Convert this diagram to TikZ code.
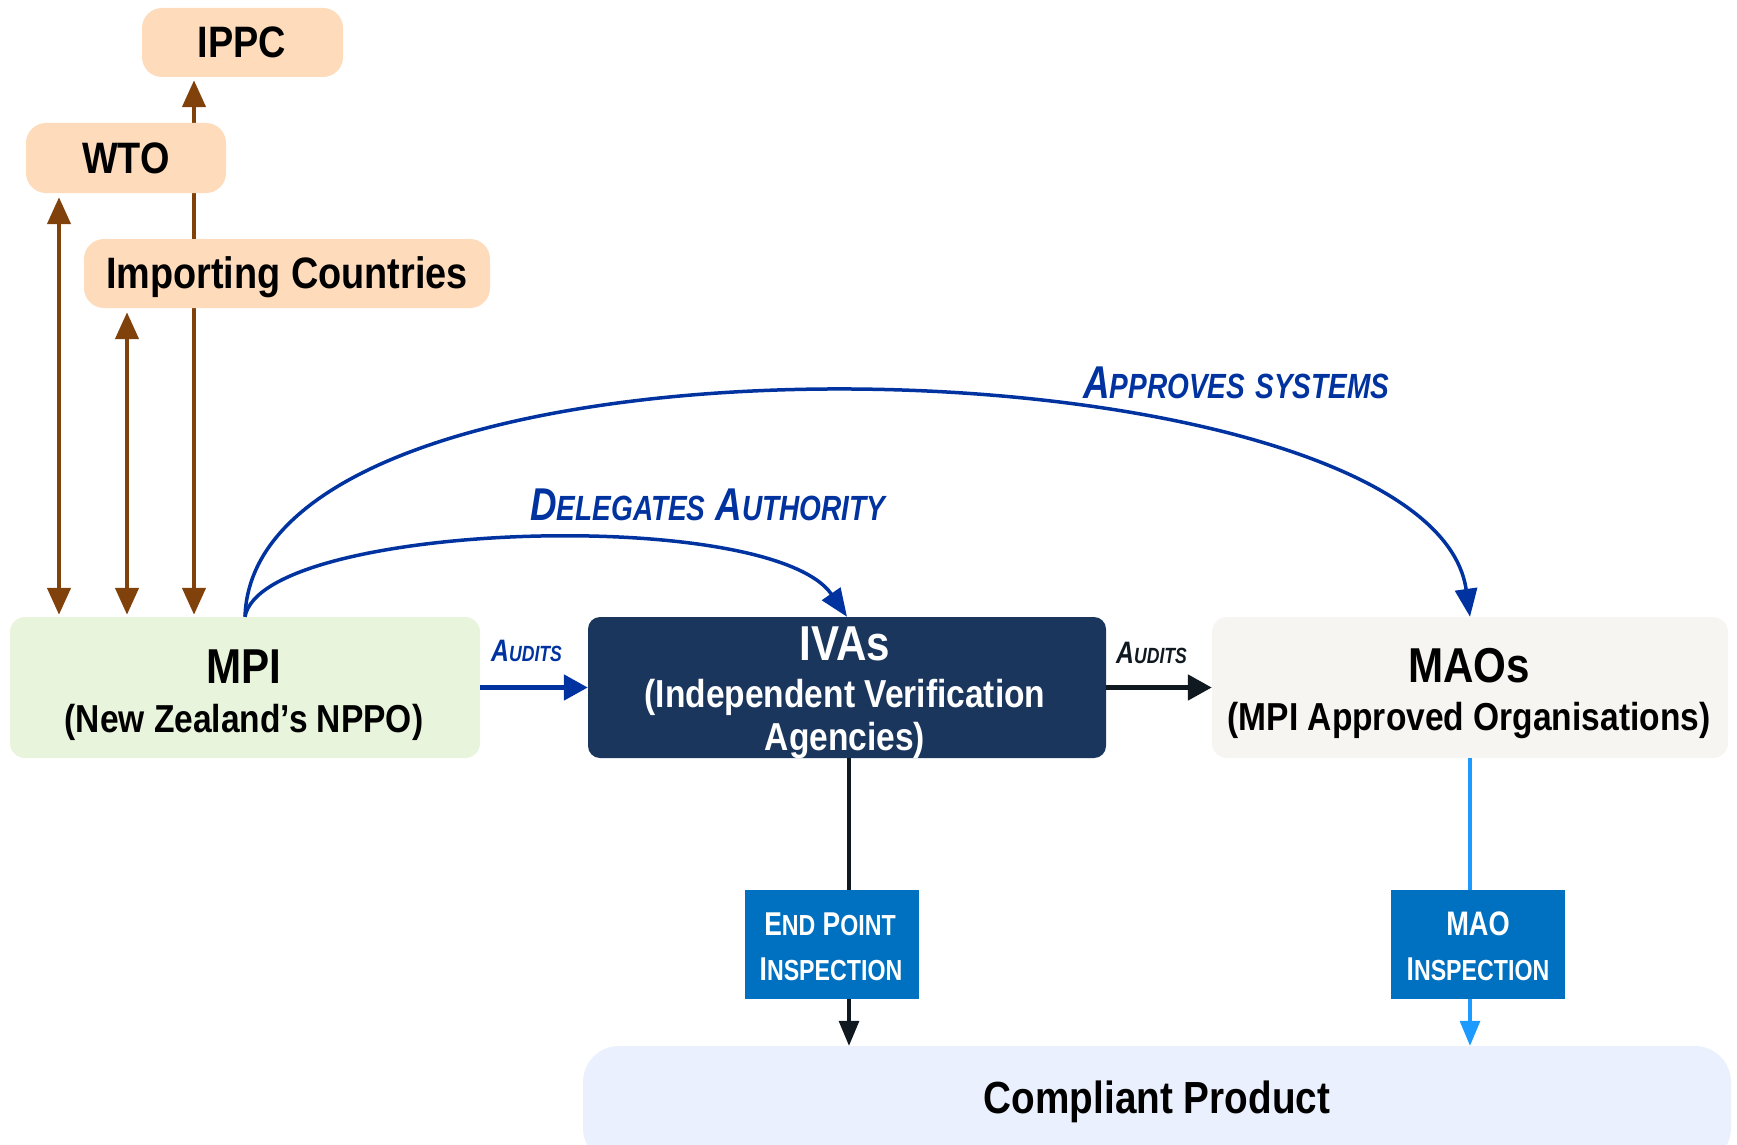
\documentclass[tikz,border=0pt]{standalone}
\usepackage{fontspec}
\setmainfont{Liberation Sans}[FakeStretch=0.86]
\newfontfamily\lblfont{Liberation Sans}[FakeStretch=0.8]
\usetikzlibrary{arrows.meta}

\definecolor{peach}{HTML}{FDDBBB}
\definecolor{linkbrown}{HTML}{80420A}
\definecolor{mpigreen}{HTML}{E8F4DB}
\definecolor{ivanavy}{HTML}{1A365D}
\definecolor{maogrey}{HTML}{F6F5F1}
\definecolor{ctrlblue}{HTML}{0033A0}
\definecolor{inspblue}{HTML}{0070C0}
\definecolor{prodblue}{HTML}{EAF0FD}
\definecolor{skyblue}{HTML}{1C9AFF}
\definecolor{inkblack}{HTML}{101820}

\pgfdeclarelayer{links}
\pgfsetlayers{links,main}

% small-caps imitation: a run of capitals at a reduced size
\newcommand\lsc[2]{{\fontsize{#1}{#1}\selectfont #2}}

\tikzset{
  box/.style={draw=none, inner sep=0pt, rounded corners=#1},
  title/.style={inner sep=0pt, anchor=base, font=\bfseries},
  lbl/.style={inner sep=0pt, anchor=base west, font=\lblfont\bfseries\itshape},
  insp/.style={inner sep=0pt, anchor=base, text=white, font=\lblfont\bfseries},
  tie/.style={draw=linkbrown, line width=4.5pt,
    {Triangle[length=27pt,width=23pt]}-{Triangle[length=27pt,width=23pt]}},
  control/.style={draw=ctrlblue, line width=3.5pt, -{Triangle[length=28pt,width=22pt]}},
  audit/.style={line width=5pt, -{Triangle[length=24pt,width=25pt]}},
  flow/.style={line width=3.2pt},
  flowtip/.style={line width=3.2pt, -{Triangle[length=25pt,width=20pt]}},
}

\begin{document}
\begin{tikzpicture}[x=1pt,y=-1pt]
\useasboundingbox (0,0) rectangle (1737,1145);

% ---- boxes ----
\node[box=20pt, fill=peach, minimum width=201pt, minimum height=69pt] (ippc) at (242.5,42.5) {};
\node[box=20pt, fill=peach, minimum width=200pt, minimum height=70pt] (wto) at (126,158) {};
\node[box=20pt, fill=peach, minimum width=406pt, minimum height=69pt] (imp) at (287,273.5) {};
\node[box=15pt, fill=mpigreen, minimum width=470pt, minimum height=141pt] (mpi) at (245,687.5) {};
\node[box=12pt, fill=ivanavy, minimum width=518pt, minimum height=141pt] (iva) at (847,687.5) {};
\node[box=15pt, fill=maogrey, minimum width=516pt, minimum height=141pt] (mao) at (1470,687.5) {};
\node[box=0pt, fill=inspblue, minimum width=174pt, minimum height=109pt] (ept) at (832,944.5) {};
\node[box=0pt, fill=inspblue, minimum width=174pt, minimum height=109pt] (mai) at (1478,944.5) {};
\node[box=36pt, fill=prodblue, minimum width=1148pt, minimum height=118pt] (cp) at (1157,1105) {};

% ---- box texts ----
\node[title, font=\bfseries\fontsize{44}{44}\selectfont] (tippc) at (242,58) {IPPC};
\node[title, font=\bfseries\fontsize{44}{44}\selectfont] (twto) at (126,173) {WTO};
\node[title, font=\bfseries\fontsize{44}{44}\selectfont] (timp) at (287,288) {Importing Countries};
\node[title, font=\bfseries\fontsize{49}{49}\selectfont] (tmpi) at (244,683) {MPI};
\node[title, font=\bfseries\fontsize{39}{39}\selectfont] (tmpi2) at (244,732) {(New Zealand’s NPPO)};
\node[title, text=white, font=\bfseries\fontsize{49}{49}\selectfont] (tiva) at (845,660) {IVAs};
\node[title, text=white, font=\bfseries\fontsize{39}{39}\selectfont] (tiva2) at (845,707) {(Independent Verification};
\node[title, text=white, font=\bfseries\fontsize{39}{39}\selectfont] (tiva3) at (845,750) {Agencies)};
\node[title, font=\bfseries\fontsize{49}{49}\selectfont] (tmao) at (1469,682) {MAOs};
\node[title, font=\bfseries\fontsize{39}{39}\selectfont] (tmao2) at (1469,730) {(MPI Approved Organisations)};
\node[title, font=\bfseries\fontsize{45}{45}\selectfont] (tcp) at (1157,1113) {Compliant Product};

\node[insp] (tept) at (830,935) {\fontsize{33}{33}\selectfont E\lsc{29}{ND} P\lsc{29}{OINT}};
\node[insp] (tept2) at (831,980) {\fontsize{33}{33}\selectfont I\lsc{29}{NSPECTION}};
\node[insp] (tmai) at (1478,935) {\fontsize{34}{34}\selectfont MAO};
\node[insp] (tmai2) at (1478,980) {\fontsize{33}{33}\selectfont I\lsc{29}{NSPECTION}};

% ---- connector labels ----
\node[lbl, text=ctrlblue] (ldel) at (530,520) {\fontsize{46}{46}\selectfont D\lsc{35}{ELEGATES} A\lsc{35}{UTHORITY}};
\node[lbl, text=ctrlblue] (lapp) at (1083,398) {\fontsize{46}{46}\selectfont A\lsc{35}{PPROVES} \lsc{35}{SYSTEMS}};
\node[lbl, text=ctrlblue] (laud1) at (491,661) {\fontsize{31}{31}\selectfont A\lsc{22}{UDITS}};
\node[lbl, text=inkblack] (laud2) at (1116,663) {\fontsize{31}{31}\selectfont A\lsc{22}{UDITS}};

% ---- x positions of the vertical links ----
\coordinate (xw) at (59,0);
\coordinate (xi) at (127,0);
\coordinate (xp) at (194,0);
\coordinate (xv) at (849,0);

% ---- links to the international bodies (behind the boxes) ----
\begin{pgfonlayer}{links}
  \draw[tie, shorten <=2pt, shorten >=4pt] (mpi.north -| xw) -- (wto.south -| xw);
  \draw[tie, shorten <=2pt, shorten >=4pt] (mpi.north -| xi) -- (imp.south -| xi);
  \draw[tie, shorten <=2pt, shorten >=3pt] (mpi.north -| xp) -- (ippc.south -| xp);
\end{pgfonlayer}

% ---- authority curves ----
\draw[control] (mpi.north) .. controls (262,522) and (770,505) .. (iva.north);
\draw[control] (mpi.north) .. controls (255,300) and (1430,335) .. (mao.north);

% ---- audits ----
\draw[audit, draw=ctrlblue] (mpi.east) -- (iva.west);
\draw[audit, draw=inkblack] (iva.east) -- (mao.west);

% ---- inspections to product ----
\draw[flow, draw=inkblack] (iva.south -| xv) -- (ept.north -| xv);
\draw[flowtip, draw=inkblack] (ept.south -| xv) -- (cp.north -| xv);
\draw[flow, draw=skyblue] (mao.south) -- (mai.north -| mao.south);
\draw[flowtip, draw=skyblue] (mai.south -| mao.south) -- (cp.north -| mao.south);
\end{tikzpicture}
\end{document}
